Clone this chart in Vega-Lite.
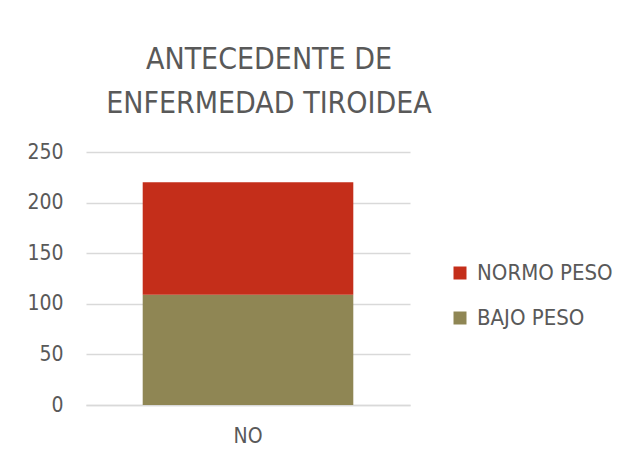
{
  "$schema": "https://vega.github.io/schema/vega-lite/v6.json",
  "width": 324,
  "height": 253,
  "autosize": {"type": "none"},
  "padding": {"left": 86, "top": 152, "right": 216, "bottom": 54},
  "background": "white",
  "title": {
    "text": ["ANTECEDENTE DE", "ENFERMEDAD TIROIDEA"],
    "font": "DejaVu Sans Condensed, Roboto, sans-serif",
    "fontSize": 30,
    "fontWeight": "normal",
    "color": "#595959",
    "anchor": "middle",
    "dx": 21,
    "offset": 22,
    "lineHeight": 44
  },
  "data": {
    "values": [
      {"cat": "NO", "grupo": "BAJO PESO", "valor": 109},
      {"cat": "NO", "grupo": "NORMO PESO", "valor": 111}
    ]
  },
  "mark": {"type": "bar"},
  "encoding": {
    "x": {
      "field": "cat",
      "type": "nominal",
      "title": null,
      "scale": {"paddingInner": 0.35, "paddingOuter": 0.175},
      "axis": {
        "labelAngle": 0,
        "labelFont": "DejaVu Sans Condensed, Roboto, sans-serif",
        "labelFontSize": 21,
        "labelColor": "#595959",
        "labelPadding": 20,
        "ticks": false,
        "domainColor": "#d9d9d9",
        "domainWidth": 1.5
      }
    },
    "y": {
      "field": "valor",
      "type": "quantitative",
      "aggregate": "sum",
      "stack": "zero",
      "title": null,
      "scale": {"domain": [0, 250], "nice": false},
      "axis": {
        "values": [0, 50, 100, 150, 200, 250],
        "labelFont": "DejaVu Sans Condensed, Roboto, sans-serif",
        "labelFontSize": 21,
        "labelColor": "#595959",
        "labelPadding": 23,
        "ticks": false,
        "domain": false,
        "gridColor": "#d9d9d9",
        "gridWidth": 1.5
      }
    },
    "color": {
      "field": "grupo",
      "type": "nominal",
      "title": null,
      "scale": {"domain": ["NORMO PESO", "BAJO PESO"], "range": ["#c42e1a", "#8f8654"]},
      "legend": {
        "orient": "none",
        "legendX": 363,
        "legendY": 110,
        "symbolType": "square",
        "symbolSize": 169,
        "symbolStrokeWidth": 0,
        "labelFont": "DejaVu Sans Condensed, Roboto, sans-serif",
        "labelFontSize": 22,
        "labelColor": "#595959",
        "labelOffset": 6,
        "rowPadding": 23
      }
    },
    "order": {"field": "grupo", "sort": "ascending"}
  },
  "config": {"view": {"stroke": null}}
}
